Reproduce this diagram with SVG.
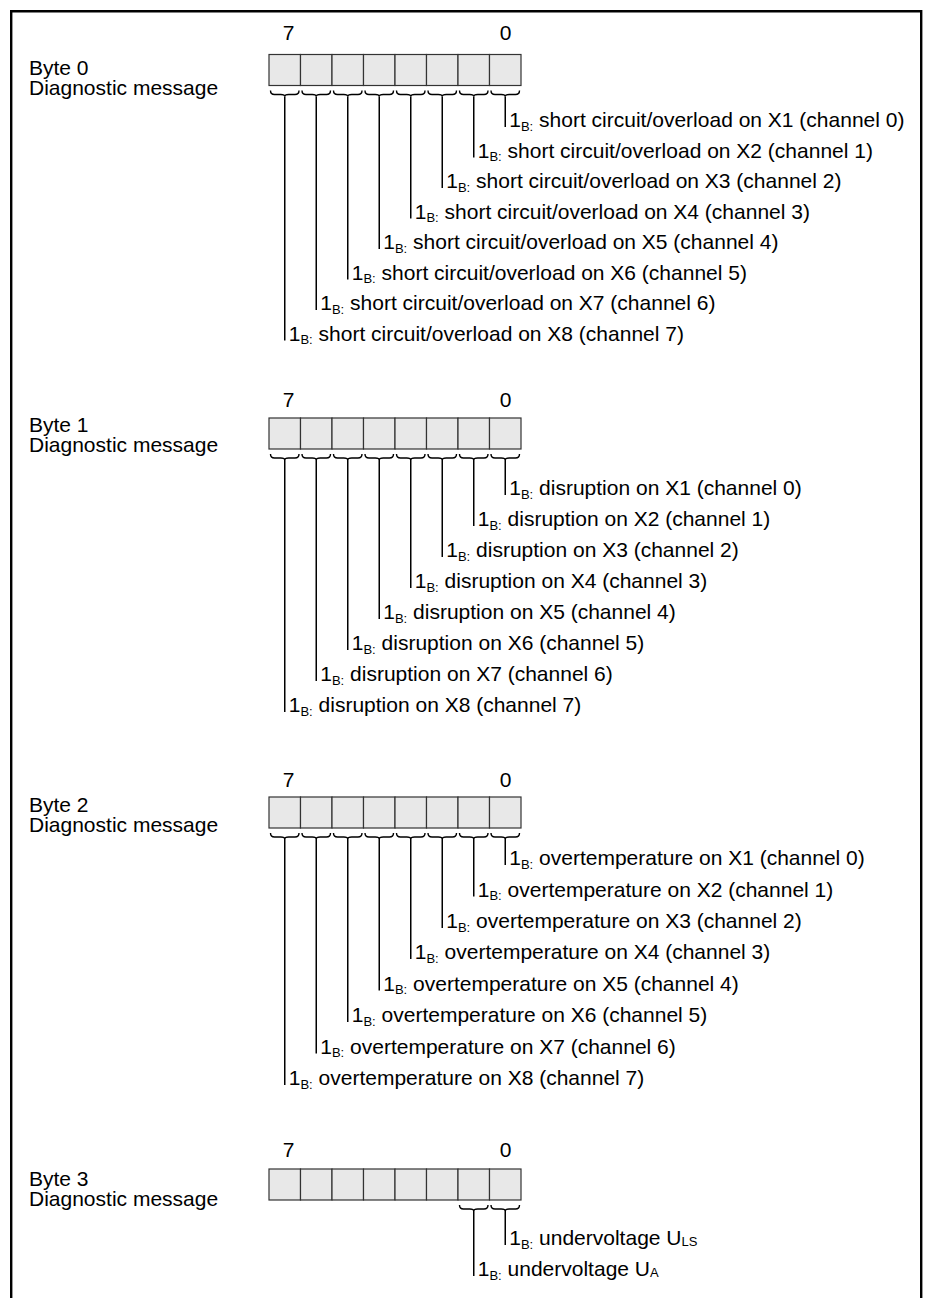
<svg xmlns="http://www.w3.org/2000/svg" xmlns:xlink="http://www.w3.org/1999/xlink" width="931" height="1298" viewBox="0 0 931 1298">
<style>
text{font-family:"Liberation Sans",Arial,sans-serif;font-size:21px;fill:#000}
.sub{font-size:13px}
.num{text-anchor:middle}
.cell{fill:#e8e8e8;stroke:#333;stroke-width:1.2}
.br{fill:none;stroke:#000;stroke-width:1.4}
.ln{fill:none;stroke:#000;stroke-width:1.5}
.frame{fill:none;stroke:#000;stroke-width:2.4}
</style>
<defs>
<g id="reg">
<rect class="cell" x="269" y="0" width="31.5" height="31"/>
<rect class="cell" x="300.5" y="0" width="31.5" height="31"/>
<rect class="cell" x="332" y="0" width="31.5" height="31"/>
<rect class="cell" x="363.5" y="0" width="31.5" height="31"/>
<rect class="cell" x="395" y="0" width="31.5" height="31"/>
<rect class="cell" x="426.5" y="0" width="31.5" height="31"/>
<rect class="cell" x="458" y="0" width="31.5" height="31"/>
<rect class="cell" x="489.5" y="0" width="31.5" height="31"/>
</g>
<path id="brace" class="br" d="M1.5 0Q1.5 4 5.5 4H11.75Q15.75 4 15.75 6Q15.75 4 19.75 4H26Q30 4 30 0"/>
</defs>

<path class="frame" d="M11.2 1298V11.2H921.2V1298"/>

<g id="byte0">
<text x="29" y="74.8">Byte 0</text>
<text x="29" y="95">Diagnostic message</text>
<text class="num" x="288.5" y="40">7</text>
<text class="num" x="505.5" y="40">0</text>
<use xlink:href="#reg" y="54.5"/>
</g>
<g id="byte0-bits">
<text x="509.25" y="127">1<tspan class="sub" dy="3.5">B:</tspan><tspan dy="-3.5"> short circuit/overload on X1 (channel 0)</tspan></text>
<text x="477.75" y="157.5">1<tspan class="sub" dy="3.5">B:</tspan><tspan dy="-3.5"> short circuit/overload on X2 (channel 1)</tspan></text>
<text x="446.25" y="188">1<tspan class="sub" dy="3.5">B:</tspan><tspan dy="-3.5"> short circuit/overload on X3 (channel 2)</tspan></text>
<text x="414.75" y="218.5">1<tspan class="sub" dy="3.5">B:</tspan><tspan dy="-3.5"> short circuit/overload on X4 (channel 3)</tspan></text>
<text x="383.25" y="249">1<tspan class="sub" dy="3.5">B:</tspan><tspan dy="-3.5"> short circuit/overload on X5 (channel 4)</tspan></text>
<text x="351.75" y="279.5">1<tspan class="sub" dy="3.5">B:</tspan><tspan dy="-3.5"> short circuit/overload on X6 (channel 5)</tspan></text>
<text x="320.25" y="310">1<tspan class="sub" dy="3.5">B:</tspan><tspan dy="-3.5"> short circuit/overload on X7 (channel 6)</tspan></text>
<text x="288.75" y="340.5">1<tspan class="sub" dy="3.5">B:</tspan><tspan dy="-3.5"> short circuit/overload on X8 (channel 7)</tspan></text>
</g>

<g id="byte1">
<text x="29" y="432.2">Byte 1</text>
<text x="29" y="452.4">Diagnostic message</text>
<text class="num" x="288.5" y="406.7">7</text>
<text class="num" x="505.5" y="406.7">0</text>
<use xlink:href="#reg" y="418"/>
</g>
<g id="byte1-bits">
<text x="509.25" y="495">1<tspan class="sub" dy="3.5">B:</tspan><tspan dy="-3.5"> disruption on X1 (channel 0)</tspan></text>
<text x="477.75" y="526">1<tspan class="sub" dy="3.5">B:</tspan><tspan dy="-3.5"> disruption on X2 (channel 1)</tspan></text>
<text x="446.25" y="557">1<tspan class="sub" dy="3.5">B:</tspan><tspan dy="-3.5"> disruption on X3 (channel 2)</tspan></text>
<text x="414.75" y="588">1<tspan class="sub" dy="3.5">B:</tspan><tspan dy="-3.5"> disruption on X4 (channel 3)</tspan></text>
<text x="383.25" y="619">1<tspan class="sub" dy="3.5">B:</tspan><tspan dy="-3.5"> disruption on X5 (channel 4)</tspan></text>
<text x="351.75" y="650">1<tspan class="sub" dy="3.5">B:</tspan><tspan dy="-3.5"> disruption on X6 (channel 5)</tspan></text>
<text x="320.25" y="681">1<tspan class="sub" dy="3.5">B:</tspan><tspan dy="-3.5"> disruption on X7 (channel 6)</tspan></text>
<text x="288.75" y="712">1<tspan class="sub" dy="3.5">B:</tspan><tspan dy="-3.5"> disruption on X8 (channel 7)</tspan></text>
</g>

<g id="byte2">
<text x="29" y="812.2">Byte 2</text>
<text x="29" y="832.4">Diagnostic message</text>
<text class="num" x="288.5" y="786.7">7</text>
<text class="num" x="505.5" y="786.7">0</text>
<use xlink:href="#reg" y="797"/>
</g>
<g id="byte2-bits">
<text x="509.25" y="865">1<tspan class="sub" dy="3.5">B:</tspan><tspan dy="-3.5"> overtemperature on X1 (channel 0)</tspan></text>
<text x="477.75" y="896.5">1<tspan class="sub" dy="3.5">B:</tspan><tspan dy="-3.5"> overtemperature on X2 (channel 1)</tspan></text>
<text x="446.25" y="928">1<tspan class="sub" dy="3.5">B:</tspan><tspan dy="-3.5"> overtemperature on X3 (channel 2)</tspan></text>
<text x="414.75" y="959">1<tspan class="sub" dy="3.5">B:</tspan><tspan dy="-3.5"> overtemperature on X4 (channel 3)</tspan></text>
<text x="383.25" y="990.5">1<tspan class="sub" dy="3.5">B:</tspan><tspan dy="-3.5"> overtemperature on X5 (channel 4)</tspan></text>
<text x="351.75" y="1022">1<tspan class="sub" dy="3.5">B:</tspan><tspan dy="-3.5"> overtemperature on X6 (channel 5)</tspan></text>
<text x="320.25" y="1053.5">1<tspan class="sub" dy="3.5">B:</tspan><tspan dy="-3.5"> overtemperature on X7 (channel 6)</tspan></text>
<text x="288.75" y="1085">1<tspan class="sub" dy="3.5">B:</tspan><tspan dy="-3.5"> overtemperature on X8 (channel 7)</tspan></text>
</g>

<g id="byte3">
<text x="29" y="1185.6">Byte 3</text>
<text x="29" y="1205.8">Diagnostic message</text>
<text class="num" x="288.5" y="1156.7">7</text>
<text class="num" x="505.5" y="1156.7">0</text>
<use xlink:href="#reg" y="1169"/>
</g>
<g id="byte3-bits">
<text x="509.25" y="1245">1<tspan class="sub" dy="3.5">B:</tspan><tspan dy="-3.5"> undervoltage U</tspan><tspan class="sub" dy="1">LS</tspan></text>
<text x="477.75" y="1276">1<tspan class="sub" dy="3.5">B:</tspan><tspan dy="-3.5"> undervoltage U</tspan><tspan class="sub" dy="1">A</tspan></text>
</g>

<g id="connectors">
<use xlink:href="#brace" x="489.5" y="90.5"/><use xlink:href="#brace" x="458" y="90.5"/><use xlink:href="#brace" x="426.5" y="90.5"/><use xlink:href="#brace" x="395" y="90.5"/><use xlink:href="#brace" x="363.5" y="90.5"/><use xlink:href="#brace" x="332" y="90.5"/><use xlink:href="#brace" x="300.5" y="90.5"/><use xlink:href="#brace" x="269" y="90.5"/>
<path class="ln" d="M505.25 96.5V127M473.75 96.5V157.5M442.25 96.5V188M410.75 96.5V218.5M379.25 96.5V249M347.75 96.5V279.5M316.25 96.5V310M284.75 96.5V340.5"/>
<use xlink:href="#brace" x="489.5" y="454"/><use xlink:href="#brace" x="458" y="454"/><use xlink:href="#brace" x="426.5" y="454"/><use xlink:href="#brace" x="395" y="454"/><use xlink:href="#brace" x="363.5" y="454"/><use xlink:href="#brace" x="332" y="454"/><use xlink:href="#brace" x="300.5" y="454"/><use xlink:href="#brace" x="269" y="454"/>
<path class="ln" d="M505.25 460V495M473.75 460V526M442.25 460V557M410.75 460V588M379.25 460V619M347.75 460V650M316.25 460V681M284.75 460V712"/>
<use xlink:href="#brace" x="489.5" y="833"/><use xlink:href="#brace" x="458" y="833"/><use xlink:href="#brace" x="426.5" y="833"/><use xlink:href="#brace" x="395" y="833"/><use xlink:href="#brace" x="363.5" y="833"/><use xlink:href="#brace" x="332" y="833"/><use xlink:href="#brace" x="300.5" y="833"/><use xlink:href="#brace" x="269" y="833"/>
<path class="ln" d="M505.25 839V865M473.75 839V896.5M442.25 839V928M410.75 839V959M379.25 839V990.5M347.75 839V1022M316.25 839V1053.5M284.75 839V1085"/>
<use xlink:href="#brace" x="489.5" y="1205"/><use xlink:href="#brace" x="458" y="1205"/>
<path class="ln" d="M505.25 1211V1245M473.75 1211V1276"/>
</g>
</svg>
